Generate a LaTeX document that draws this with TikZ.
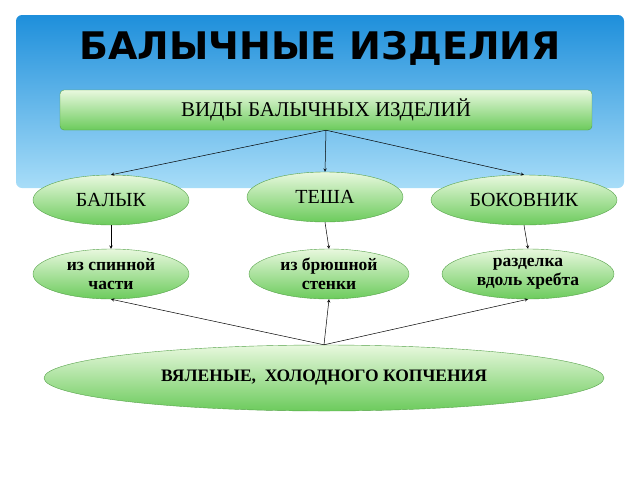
\documentclass[tikz,border=0pt]{standalone}
\usepackage{fontspec}
\setmainfont{Liberation Serif}
\newfontfamily\titlefont{DejaVu Sans}
\usetikzlibrary{shapes.geometric}
\definecolor{skytop}{HTML}{1E8FDB}
\definecolor{skybot}{HTML}{A8DDF8}
\definecolor{leafhi}{HTML}{E8F8DE}
\definecolor{leaflo}{HTML}{6CCB5C}
\tikzset{
  kind/.style={ellipse,draw=leaflo!80!black,top color=leafhi,bottom color=leaflo,
    minimum height=50pt,inner sep=0pt,font=\fontsize{20}{21}\selectfont,align=center},
  sub/.style={kind,font=\bfseries\fontsize{17.5}{19}\selectfont},
  link/.style={->,>=stealth,draw=black,line width=0.5pt}
}
\begin{document}
\begin{tikzpicture}[x=1pt,y=-1pt]
  \useasboundingbox (0,0) rectangle (640,480);
  % sky band
  \shade[top color=skytop,bottom color=skybot,rounded corners=6pt] (16,15) rectangle (624,188);
  \node[font=\titlefont\bfseries\fontsize{38}{40}\selectfont] (title) at (320,48) {БАЛЫЧНЫЕ ИЗДЕЛИЯ};
  \node[draw=leaflo!80!black,rounded corners=4pt,top color=leafhi,bottom color=leaflo,
    minimum width=532pt,minimum height=40pt,font=\fontsize{21}{22}\selectfont] (types) at (326,110) {ВИДЫ БАЛЫЧНЫХ ИЗДЕЛИЙ};
  % first row
  \node[kind,minimum width=156pt] (balyk) at (111,200) {БАЛЫК};
  \node[kind,minimum width=156pt] (tesha) at (325,197) {ТЕША};
  \node[kind,minimum width=186pt] (bokov) at (524,200) {БОКОВНИК};
  % second row
  \node[sub,minimum width=156pt] (back) at (111,274) {из спинной\\части};
  \node[sub,minimum width=160pt] (belly) at (329,274) {из брюшной\\стенки};
  \node[sub,minimum width=172pt] (spine) at (528,274) {разделка\\вдоль хребта};
  % bottom
  \node[sub,minimum width=560pt,minimum height=66pt] (cure) at (324,378) {ВЯЛЕНЫЕ,\ \ ХОЛОДНОГО КОПЧЕНИЯ};
  \draw[link] (types.south) -- (balyk.north);
  \draw[link] (types.south) -- (tesha.north);
  \draw[link] (types.south) -- (bokov.north);
  \draw[link] (balyk.south) -- (back.north);
  \draw[link] (tesha.south) -- (belly.north);
  \draw[link] (bokov.south) -- (spine.north);
  \draw[link] (cure.north) -- (back.south);
  \draw[link] (cure.north) -- (belly.south);
  \draw[link] (cure.north) -- (spine.south);
\end{tikzpicture}
\end{document}
